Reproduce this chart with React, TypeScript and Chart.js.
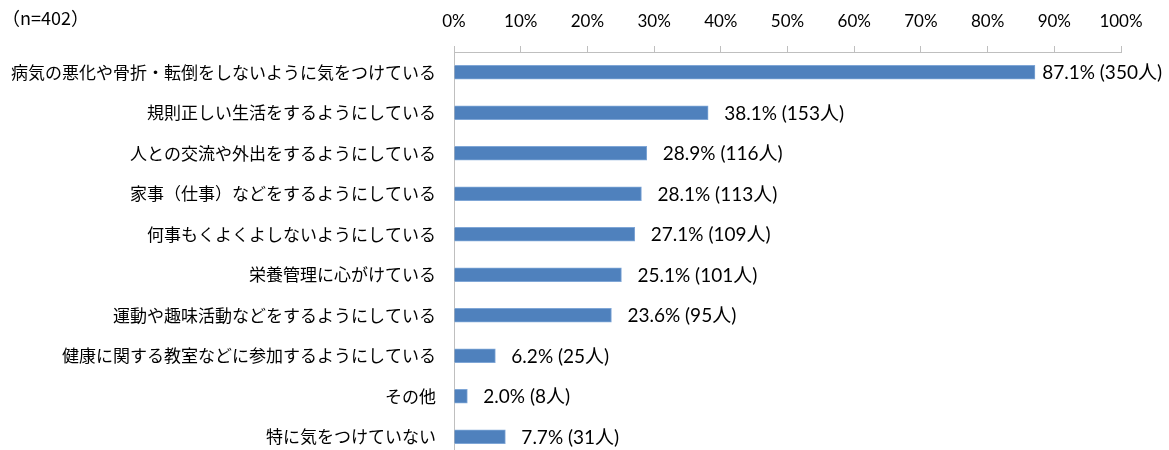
import React, { useEffect, useRef } from "react";
import { Chart, registerables } from "chart.js";

Chart.register(...registerables);

const categories = [
  "病気の悪化や骨折・転倒をしないように気をつけている",
  "規則正しい生活をするようにしている",
  "人との交流や外出をするようにしている",
  "家事（仕事）などをするようにしている",
  "何事もくよくよしないようにしている",
  "栄養管理に心がけている",
  "運動や趣味活動などをするようにしている",
  "健康に関する教室などに参加するようにしている",
  "その他",
  "特に気をつけていない",
];
const percents = [87.1, 38.1, 28.9, 28.1, 27.1, 25.1, 23.6, 6.2, 2.0, 7.7];
const counts = [350, 153, 116, 113, 109, 101, 95, 25, 8, 31];
const sampleNote = "（n=402）";

const NUM_FONT = 'Lato, "Noto Sans CJK JP", sans-serif';
const JP_FONT = '"Noto Sans CJK JP", sans-serif';

export default function App() {
  const ref = useRef<HTMLCanvasElement | null>(null);
  useEffect(() => {
    document.body.style.margin = "0";
    document.body.style.overflow = "hidden";
    const labelPlugin = {
      id: "labels",
      afterDatasetsDraw(chart: any) {
        const ctx = chart.ctx;
        const meta = chart.getDatasetMeta(0);
        ctx.save();
        ctx.fillStyle = "#000";
        ctx.font = `19px ${NUM_FONT}`;
        ctx.textBaseline = "middle";
        ctx.textAlign = "left";
        meta.data.forEach((bar: any, i: number) => {
          const txt = `${percents[i].toFixed(1)}% (${counts[i]}人)`;
          const w = ctx.measureText(txt).width;
          const x = Math.min(bar.x + 16, chart.width - w - 7);
          ctx.fillText(txt, x, bar.y + 1);
        });
        ctx.font = `18px ${JP_FONT}`;
        ctx.fillText(sampleNote, 2, 18);
        ctx.restore();
      },
    };
    const chart = new Chart(ref.current!, {
      type: "bar",
      data: {
        labels: categories,
        datasets: [
          {
            data: percents,
            backgroundColor: "#4F81BD",
            borderColor: "#7FA6D6",
            borderWidth: 1,
            barThickness: 14,
          },
        ],
      },
      options: {
        indexAxis: "y",
        animation: false,
        responsive: false,
        maintainAspectRatio: false,
        layout: { padding: { top: 0, right: 48, bottom: 0, left: 0 } },
        plugins: { legend: { display: false }, tooltip: { enabled: false } },
        scales: {
          x: {
            position: "top",
            min: 0,
            max: 100,
            afterFit(scale: any) {
              scale.height = 52;
            },
            ticks: {
              stepSize: 10,
              callback: (v: any) => `${v}%`,
              color: "#000",
              font: { family: NUM_FONT, size: 17 },
              padding: 14,
              maxRotation: 0,
            },
            grid: { drawOnChartArea: false, drawTicks: true, tickLength: 6, color: "#BFBFBF" },
            border: { display: true, color: "#BFBFBF" },
          },
          y: {
            afterFit(scale: any) {
              scale.width = 454;
              scale.paddingTop = 0;
              scale.paddingBottom = 0;
            },
            ticks: {
              color: "#000",
              font: { family: JP_FONT, size: 17 },
              padding: 18,
            },
            grid: { display: false, drawTicks: false },
            border: { display: true, color: "#BFBFBF" },
          },
        },
      },
      plugins: [labelPlugin],
    } as any);
    return () => chart.destroy();
  }, []);
  return <canvas ref={ref} width={1169} height={457} style={{ display: "block" }} />;
}
